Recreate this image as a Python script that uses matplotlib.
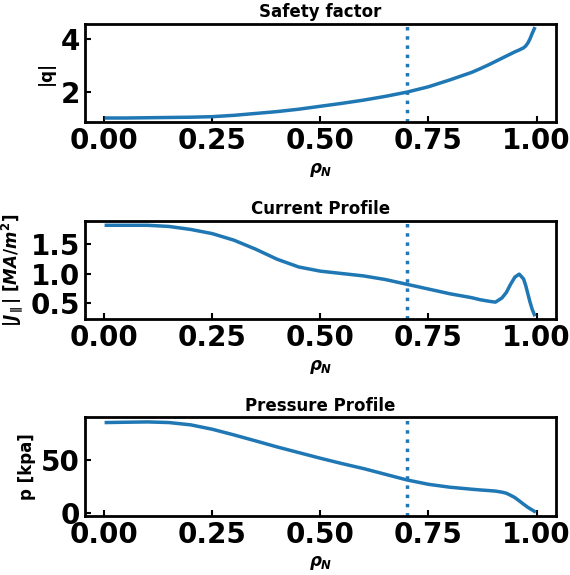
import matplotlib
matplotlib.use('Agg')
import matplotlib.pyplot as plt

plt.rcParams['mathtext.fontset'] = 'custom'
plt.rcParams['mathtext.it'] = 'DejaVu Sans:italic:bold'
plt.rcParams['mathtext.rm'] = 'DejaVu Sans:bold'
plt.rcParams['mathtext.bf'] = 'DejaVu Sans:bold'

# radial grid (normalised rho), denser near the edge
rho = [0.005, 0.05, 0.10, 0.15, 0.20, 0.25, 0.30, 0.35, 0.40, 0.45, 0.50,
       0.55, 0.60, 0.65, 0.70, 0.75, 0.80, 0.85, 0.87, 0.89, 0.905, 0.92,
       0.93, 0.94, 0.95, 0.96, 0.97, 0.975, 0.98, 0.985, 0.99, 0.995]

# safety factor |q|
q = [1.03, 1.03, 1.04, 1.05, 1.06, 1.08, 1.13, 1.20, 1.27, 1.36, 1.47,
     1.58, 1.70, 1.84, 2.00, 2.20, 2.46, 2.74, 2.88, 3.03, 3.15, 3.27,
     3.35, 3.43, 3.51, 3.58, 3.66, 3.73, 3.84, 4.00, 4.20, 4.38]

# current density |J_par| [MA/m^2]
j_par = [1.81, 1.81, 1.81, 1.79, 1.74, 1.67, 1.56, 1.41, 1.24, 1.11, 1.04,
         1.00, 0.96, 0.90, 0.82, 0.74, 0.66, 0.595, 0.56, 0.535, 0.52, 0.59,
         0.68, 0.82, 0.94, 0.99, 0.91, 0.80, 0.66, 0.52, 0.40, 0.31]

# pressure [kPa]
pres = [86.0, 86.3, 86.6, 86.0, 83.8, 79.6, 74.2, 68.5, 62.7, 57.3, 51.9,
        46.8, 42.0, 36.6, 31.2, 27.0, 24.2, 22.3, 21.6, 21.0, 20.5, 19.5,
        18.5, 16.5, 14.3, 11.2, 8.0, 6.5, 5.0, 3.7, 2.5, 1.2]

rho_ped = 0.7

panels = [
    (q, 'Safety factor', '|q|', [2, 4]),
    (j_par, 'Current Profile', r'$|J_{\parallel}|\ [MA/m^2]$', [0.5, 1.0, 1.5]),
    (pres, 'Pressure Profile', 'p [kpa]', [0, 50]),
]

fig, axs = plt.subplots(3, 1, figsize=(5.7, 5.75), dpi=100)
plt.subplots_adjust(left=0.149, right=0.975, top=0.958, bottom=0.103, hspace=1.0)

for ax, (vals, ttl, ylab, yt) in zip(axs, panels):
    ax.plot(rho, vals, color='tab:blue', lw=2.5)
    ax.axvline(rho_ped, color='tab:blue', ls=':', lw=2.5)
    ax.set_title(ttl, fontsize=12, fontweight='bold', pad=5)
    ax.set_ylabel(ylab, fontsize=12, fontweight='bold')
    ax.set_xlabel(r'$\rho_N$', fontsize=12, fontweight='bold')
    ax.set_xticks([0.0, 0.25, 0.5, 0.75, 1.0])
    ax.set_yticks(yt)
    ax.tick_params(direction='in', labelsize=20, width=1.5, length=4)
    for lab in ax.get_xticklabels() + ax.get_yticklabels():
        lab.set_fontweight('bold')
    for s in ax.spines.values():
        s.set_linewidth(2)

fig.savefig('out.png', dpi=100)
